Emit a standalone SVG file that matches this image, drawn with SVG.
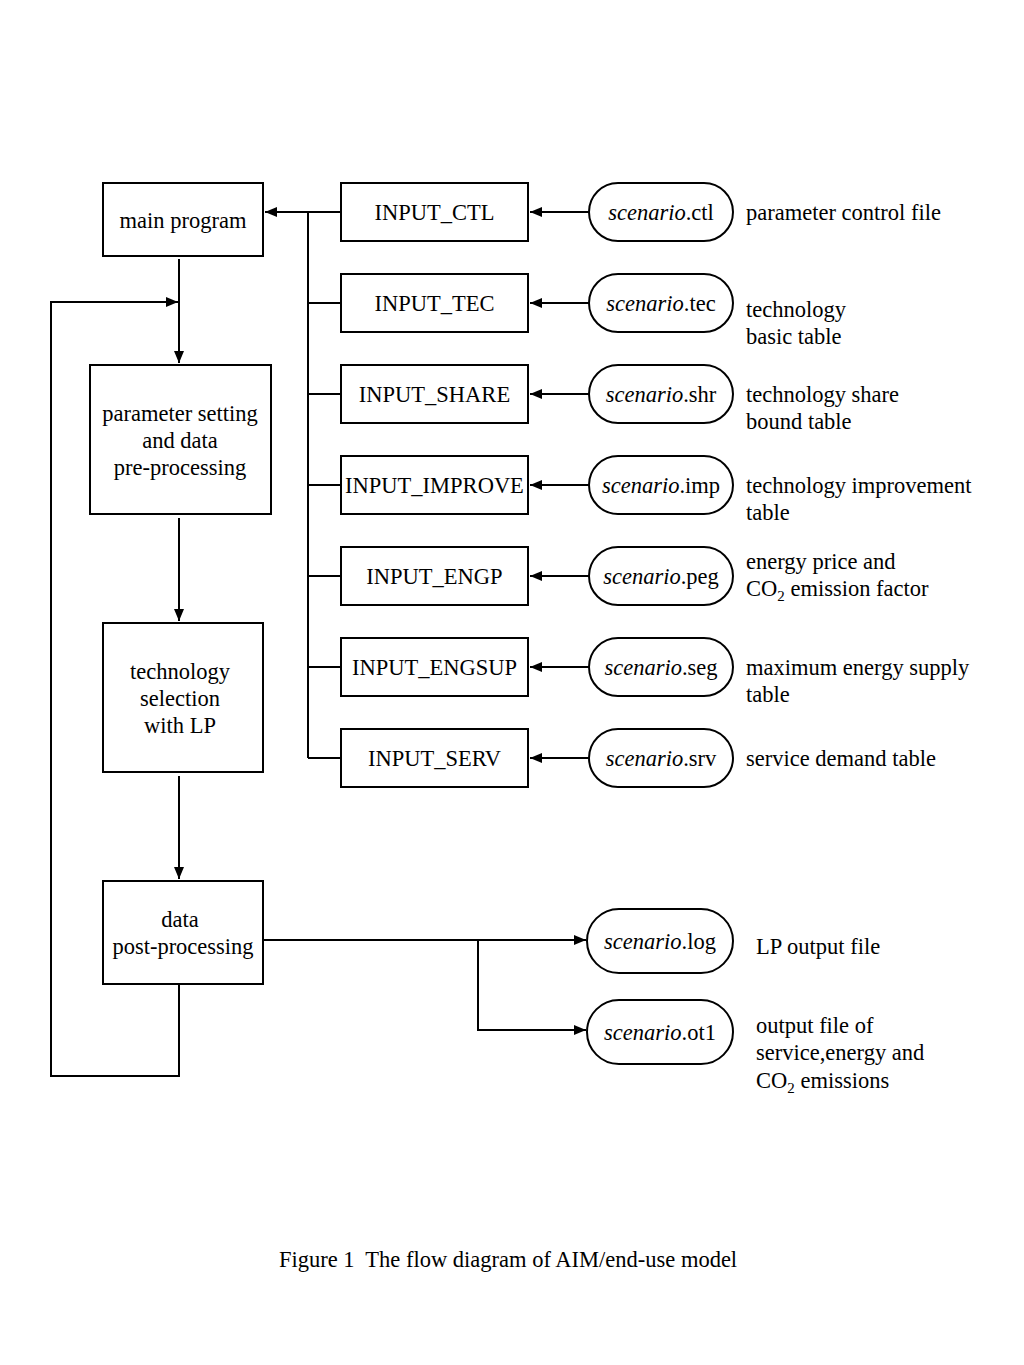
<svg xmlns="http://www.w3.org/2000/svg" width="1024" height="1365" viewBox="0 0 1024 1365">
<style>
text{font-family:"Liberation Serif","Times New Roman",serif;font-size:22.5px;fill:#000}
.c{text-anchor:middle}
.box{fill:#fff;stroke:#000;stroke-width:2}
.ln{fill:none;stroke:#000;stroke-width:2}
.i{font-style:italic}
.sub{font-size:15px}
</style>
<defs>
<marker id="ah" viewBox="0 0 12 10" refX="12" refY="5" markerWidth="12" markerHeight="10" markerUnits="userSpaceOnUse" orient="auto">
<path d="M0,0 L12,5 L0,10 Z" fill="#000"/>
</marker>
</defs>
<rect width="1024" height="1365" fill="#fff"/>
<g id="connectors">
<line class="ln" x1="179" y1="259" x2="179" y2="363" marker-end="url(#ah)"/>
<polyline class="ln" points="179,985 179,1076 51,1076 51,302 178,302" marker-end="url(#ah)"/>
<line class="ln" x1="179" y1="518" x2="179" y2="621" marker-end="url(#ah)"/>
<line class="ln" x1="179" y1="776" x2="179" y2="879" marker-end="url(#ah)"/>
<line class="ln" x1="308" y1="212" x2="308" y2="758"/>
<line class="ln" x1="341" y1="212" x2="265" y2="212" marker-end="url(#ah)"/>
<line class="ln" x1="308" y1="303" x2="341" y2="303"/>
<line class="ln" x1="308" y1="394" x2="341" y2="394"/>
<line class="ln" x1="308" y1="485" x2="341" y2="485"/>
<line class="ln" x1="308" y1="576" x2="341" y2="576"/>
<line class="ln" x1="308" y1="667" x2="341" y2="667"/>
<line class="ln" x1="308" y1="758" x2="341" y2="758"/>
<line class="ln" x1="589" y1="212" x2="530" y2="212" marker-end="url(#ah)"/>
<line class="ln" x1="589" y1="303" x2="530" y2="303" marker-end="url(#ah)"/>
<line class="ln" x1="589" y1="394" x2="530" y2="394" marker-end="url(#ah)"/>
<line class="ln" x1="589" y1="485" x2="530" y2="485" marker-end="url(#ah)"/>
<line class="ln" x1="589" y1="576" x2="530" y2="576" marker-end="url(#ah)"/>
<line class="ln" x1="589" y1="667" x2="530" y2="667" marker-end="url(#ah)"/>
<line class="ln" x1="589" y1="758" x2="530" y2="758" marker-end="url(#ah)"/>
<line class="ln" x1="264" y1="940" x2="586" y2="940" marker-end="url(#ah)"/>
<polyline class="ln" points="478,940 478,1030 586,1030" marker-end="url(#ah)"/>
</g>
<g id="main-program"><rect class="box" x="103" y="183" width="160" height="73"/><text class="c" x="183" y="228">main program</text></g>
<g id="param-setting"><rect class="box" x="90" y="365" width="181" height="149"/><text class="c" x="180" y="421">parameter setting</text><text class="c" x="180" y="448">and data</text><text class="c" x="180" y="475">pre-processing</text></g>
<g id="tech-selection"><rect class="box" x="103" y="623" width="160" height="149"/><text class="c" x="180" y="679">technology</text><text class="c" x="180" y="706">selection</text><text class="c" x="180" y="733">with LP</text></g>
<g id="post-processing"><rect class="box" x="103" y="881" width="160" height="103"/><text class="c" x="180" y="927">data</text><text class="c" x="183" y="954">post-processing</text></g>
<g id="input-ctl"><rect class="box" x="341" y="183" width="187" height="58"/><text class="c" x="434.5" y="220">INPUT_CTL</text></g>
<g id="input-tec"><rect class="box" x="341" y="274" width="187" height="58"/><text class="c" x="434.5" y="311">INPUT_TEC</text></g>
<g id="input-share"><rect class="box" x="341" y="365" width="187" height="58"/><text class="c" x="434.5" y="402">INPUT_SHARE</text></g>
<g id="input-improve"><rect class="box" x="341" y="456" width="187" height="58"/><text class="c" x="434.5" y="493">INPUT_IMPROVE</text></g>
<g id="input-engp"><rect class="box" x="341" y="547" width="187" height="58"/><text class="c" x="434.5" y="584">INPUT_ENGP</text></g>
<g id="input-engsup"><rect class="box" x="341" y="638" width="187" height="58"/><text class="c" x="434.5" y="675">INPUT_ENGSUP</text></g>
<g id="input-serv"><rect class="box" x="341" y="729" width="187" height="58"/><text class="c" x="434.5" y="766">INPUT_SERV</text></g>
<g id="scen-ctl"><rect class="box" x="589" y="183" width="144" height="58" rx="29"/><text class="c" x="661" y="220"><tspan class="i">scenario</tspan>.ctl</text></g>
<g id="scen-tec"><rect class="box" x="589" y="274" width="144" height="58" rx="29"/><text class="c" x="661" y="311"><tspan class="i">scenario</tspan>.tec</text></g>
<g id="scen-shr"><rect class="box" x="589" y="365" width="144" height="58" rx="29"/><text class="c" x="661" y="402"><tspan class="i">scenario</tspan>.shr</text></g>
<g id="scen-imp"><rect class="box" x="589" y="456" width="144" height="58" rx="29"/><text class="c" x="661" y="493"><tspan class="i">scenario</tspan>.imp</text></g>
<g id="scen-peg"><rect class="box" x="589" y="547" width="144" height="58" rx="29"/><text class="c" x="661" y="584"><tspan class="i">scenario</tspan>.peg</text></g>
<g id="scen-seg"><rect class="box" x="589" y="638" width="144" height="58" rx="29"/><text class="c" x="661" y="675"><tspan class="i">scenario</tspan>.seg</text></g>
<g id="scen-srv"><rect class="box" x="589" y="729" width="144" height="58" rx="29"/><text class="c" x="661" y="766"><tspan class="i">scenario</tspan>.srv</text></g>
<g id="scen-log"><rect class="box" x="587" y="909" width="146" height="64" rx="32"/><text class="c" x="660" y="949"><tspan class="i">scenario</tspan>.log</text></g>
<g id="scen-ot1"><rect class="box" x="587" y="1000" width="146" height="64" rx="32"/><text class="c" x="660" y="1040"><tspan class="i">scenario</tspan>.ot1</text></g>
<g id="labels">
<text x="746" y="220">parameter control file</text>
<text x="746" y="317">technology</text><text x="746" y="344">basic table</text>
<text x="746" y="402">technology share</text><text x="746" y="429">bound table</text>
<text x="746" y="493">technology improvement</text><text x="746" y="520">table</text>
<text x="746" y="569">energy price and</text><text x="746" y="596">CO<tspan class="sub" dy="5">2</tspan><tspan dy="-5"> emission factor</tspan></text>
<text x="746" y="675">maximum energy supply</text><text x="746" y="702">table</text>
<text x="746" y="766">service demand table</text>
<text x="756" y="954">LP output file</text>
<text x="756" y="1033">output file of</text><text x="756" y="1060">service,energy and</text><text x="756" y="1088">CO<tspan class="sub" dy="5">2</tspan><tspan dy="-5"> emissions</tspan></text>
<text class="c" x="508" y="1267">Figure 1&#160; The flow diagram of AIM/end-use model</text>
</g>
</svg>
